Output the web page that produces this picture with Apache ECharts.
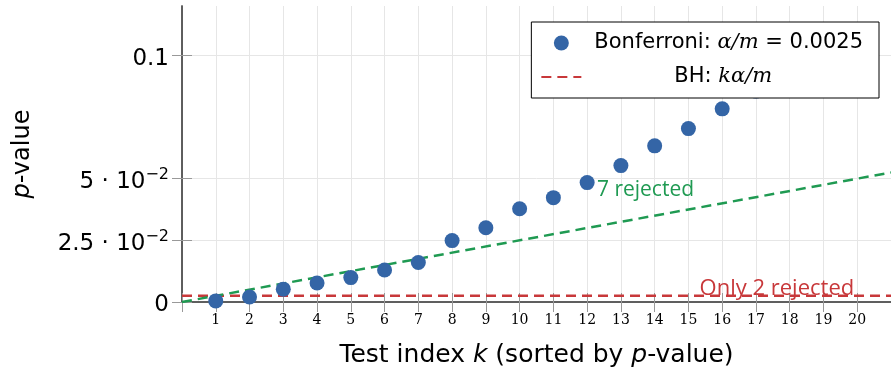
<!DOCTYPE html>
<html>
<head>
<meta charset="utf-8">
<script src="https://cdn.jsdelivr.net/npm/echarts@6/dist/echarts.min.js"></script>
<style>
html,body{margin:0;padding:0;background:#fff;}
#chart{width:891px;height:373px;}
</style>
</head>
<body>
<div id="chart"></div>
<script>
// ---- data ----
const kValues = [1,2,3,4,5,6,7,8,9,10,11,12,13,14,15,16,17,18,19,20];
const pValues = [0.00045,0.002,0.0052,0.0077,0.0099,0.013,0.016,0.0249,0.0301,0.0378,0.0423,0.0484,0.0553,0.0633,0.0703,0.0783,0.0855,0.092,0.099,0.106];
const bonfLine = [[0,0.0025],[21,0.0025]];
const bhLine = [[0,0],[21,0.0525]];
const xTickLabels = [1,2,3,4,5,6,7,8,9,10,11,12,13,14,15,16,17,18,19,20];
const yTickValues = [0,0.025,0.05,0.1];
const yTickLabels = ['0','2.5 \u00B7 10{s|\u22122}','5 \u00B7 10{s|\u22122}','0.1'];
const annotations = [
  {text:'7 rejected', k:12.29, p:0.0455},
  {text:'Only 2 rejected', k:15.33, p:0.0052}
];

const SANS = 'DejaVu Sans';
const SERIF = 'DejaVu Serif';
const BLUE = '#3465a6';
const RED = '#c8383a';
const GREEN = '#1f9a52';

const chart = echarts.init(document.getElementById('chart'), null, {renderer:'canvas'});

const legendText = {
  'Bonferroni': '{t|Bonferroni: }{m|\u03B1/m}{t| = 0.0025}',
  'BH': '{sp| }{t|BH: }{m|k\u03B1/m}'
};

const option = {
  animation:false,
  backgroundColor:'#fff',
  grid:{left:182, right:-2, top:6, bottom:70, show:false},
  legend:{
    orient:'vertical', right:12, top:22, z:20,
    data:[{name:'Bonferroni', icon:'circle'}, {name:'BH', itemStyle:{color:'rgba(0,0,0,0)', borderWidth:0}}],
    itemWidth:40, itemHeight:15, itemGap:8,
    padding:[8,16,8,9],
    backgroundColor:'#fff', borderColor:'#000', borderWidth:1, borderRadius:0,
    selectedMode:false,
    formatter: n => legendText[n],
    textStyle:{
      fontFamily:SANS, fontSize:21, color:'#000', lineHeight:26, padding:[0,0,0,8],
      rich:{
        t:{fontFamily:SANS, fontSize:21, color:'#000'},
        m:{fontFamily:SERIF, fontStyle:'italic', fontSize:21, color:'#000'},
        sp:{width:80}
      }
    }
  },
  xAxis:[{
    type:'value', min:0, max:21, interval:1, position:'bottom',
    name:'{n|Test index }{i|k}{n| (sorted by }{i|p}{n|-value)}',
    nameLocation:'middle', nameGap:41,
    nameTextStyle:{
      fontFamily:SANS, fontSize:25, color:'#000',
      rich:{
        n:{fontFamily:SANS, fontSize:25, color:'#000'},
        i:{fontFamily:SANS, fontStyle:'italic', fontSize:25, color:'#000'}
      }
    },
    axisLine:{show:true, lineStyle:{color:'#555', width:1.5}},
    axisTick:{show:true, inside:true, length:9, lineStyle:{color:'#999'}},
    axisLabel:{show:true, customValues:xTickLabels, margin:11, fontFamily:SERIF, fontSize:14, color:'#000'},
    splitLine:{show:true, lineStyle:{color:'#e6e6e6', width:1}}
  },{
    type:'value', min:0, max:21, interval:1, position:'top',
    axisLine:{show:true, lineStyle:{color:'#555', width:1.5}},
    axisTick:{show:true, inside:true, length:10, lineStyle:{color:'#999'}},
    axisLabel:{show:false},
    splitLine:{show:false}
  }],
  yAxis:[{
    type:'value', min:0, max:0.12, position:'left',
    name:'{i|p}{n|-value}',
    nameLocation:'middle', nameGap:147, nameRotate:90,
    nameTextStyle:{
      fontFamily:SANS, fontSize:24, color:'#000',
      rich:{
        n:{fontFamily:SANS, fontSize:24, color:'#000'},
        i:{fontFamily:SANS, fontStyle:'italic', fontSize:24, color:'#000'}
      }
    },
    axisLine:{show:true, lineStyle:{color:'#555', width:1.5}},
    axisTick:{show:true, inside:true, length:10, customValues:yTickValues, lineStyle:{color:'#999'}},
    axisLabel:{
      show:true, customValues:yTickValues, margin:13, padding:[7,0,0,0],
      fontFamily:SANS, fontSize:23, color:'#000',
      formatter: v => { const i = yTickValues.findIndex(t => Math.abs(t - v) < 1e-9); return i >= 0 ? yTickLabels[i] : ''; },
      rich:{ s:{fontFamily:SANS, fontSize:16, color:'#000', padding:[0,0,14,0]} }
    },
    splitLine:{show:true, lineStyle:{color:'#e6e6e6', width:1}}
  },{
    type:'value', min:0, max:0.12, position:'right',
    axisLine:{show:true, lineStyle:{color:'#555', width:1.5}},
    axisTick:{show:true, inside:true, length:10, customValues:yTickValues, lineStyle:{color:'#999'}},
    axisLabel:{show:false},
    splitLine:{show:false}
  }],
  series:[
    {
      name:'BH', type:'line', xAxisIndex:0, yAxisIndex:0,
      data:bonfLine, symbol:'none', showSymbol:false, z:2,
      lineStyle:{color:RED, width:2.5, type:[10,6]},
      itemStyle:{color:RED},
      markPoint:{
        symbol:'circle', symbolSize:0, silent:true,
        label:{show:true, position:'right', distance:0, formatter:'{b}', fontFamily:'Open Sans', fontSize:22, color:RED},
        data:[{name:annotations[1].text, coord:[annotations[1].k, annotations[1].p]}]
      }
    },
    {
      name:'BH line', type:'line', xAxisIndex:0, yAxisIndex:0,
      data:bhLine, symbol:'none', showSymbol:false, z:2,
      lineStyle:{color:GREEN, width:2.5, type:[10,6]},
      itemStyle:{color:GREEN},
      markPoint:{
        symbol:'circle', symbolSize:0, silent:true,
        label:{show:true, position:'right', distance:0, formatter:'{b}', fontFamily:'Open Sans', fontSize:21, color:GREEN},
        data:[{name:annotations[0].text, coord:[annotations[0].k, annotations[0].p]}]
      }
    },
    {
      name:'Bonferroni', type:'scatter', xAxisIndex:0, yAxisIndex:0,
      data:kValues.map((k,i)=>[k,pValues[i]]),
      symbol:'circle', symbolSize:15, z:3,
      itemStyle:{color:BLUE, opacity:1}
    }
  ]
};
chart.setOption(option);
</script>
</body>
</html>
